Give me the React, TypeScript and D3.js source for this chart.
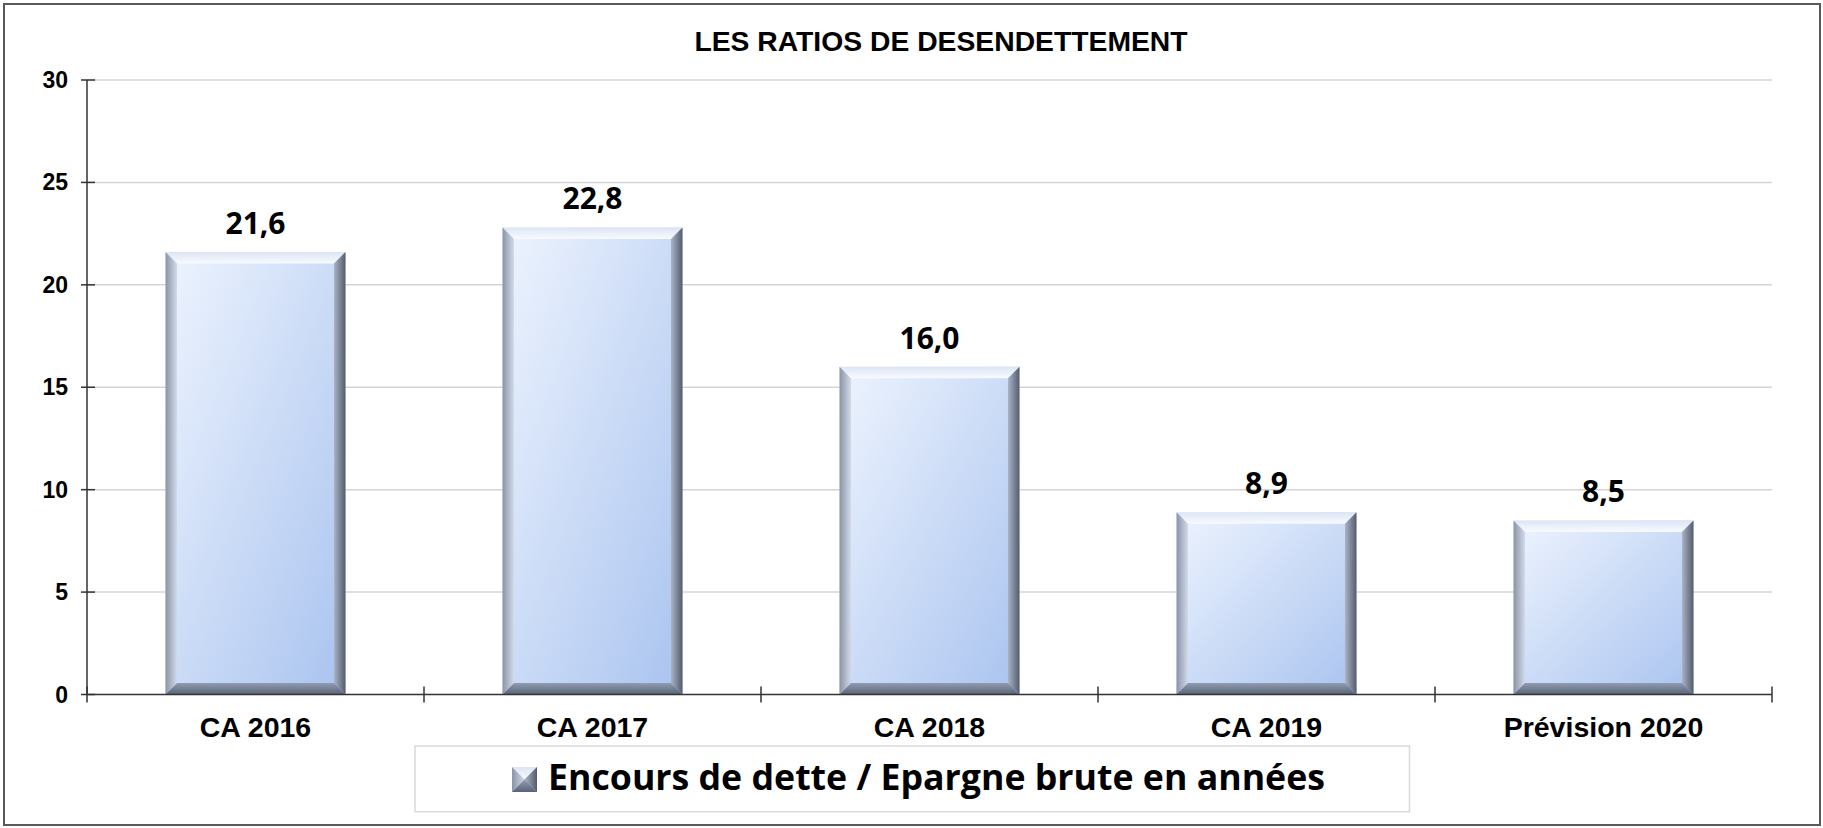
import { useEffect } from 'react';
import * as d3 from 'd3';

const categories = ['CA 2016', 'CA 2017', 'CA 2018', 'CA 2019', 'Prévision 2020'];
const ratios = [21.6, 22.8, 16.0, 8.9, 8.5];
const yTicks = [0, 5, 10, 15, 20, 25, 30];
const title = 'LES RATIOS DE DESENDETTEMENT';
const seriesName = 'Encours de dette / Epargne brute en années';

const W = 1823;
const H = 828;
const left = 87;
const right = 1772;
const top = 80;
const bottom = 694.5;
const bev = 11.5;

const fmt = (v: number) => d3.format('.1f')(v).replace('.', ',');

function Bevel({ x0, y0, x1, y1, b }: { x0: number; y0: number; x1: number; y1: number; b: number }) {
  const p = (pts: number[][]) => pts.map((d) => d.join(',')).join(' ');
  return (
    <g>
      <rect x={x0} y={y0} width={x1 - x0} height={y1 - y0} fill="url(#face)" />
      <polygon points={p([[x0, y0], [x1, y0], [x1 - b, y0 + b], [x0 + b, y0 + b]])} fill="url(#bTop)" />
      <polygon points={p([[x0, y0], [x0 + b, y0 + b], [x0 + b, y1 - b], [x0, y1]])} fill="url(#bLeft)" />
      <polygon points={p([[x1, y0], [x1, y1], [x1 - b, y1 - b], [x1 - b, y0 + b]])} fill="url(#bRight)" />
      <polygon points={p([[x0, y1], [x0 + b, y1 - b], [x1 - b, y1 - b], [x1, y1]])} fill="url(#bBottom)" />
    </g>
  );
}

export default function App() {
  useEffect(() => {
    document.body.style.margin = '0';
  }, []);

  const x = d3.scaleBand<string>().domain(categories).range([left, right]).paddingInner(0.466).paddingOuter(0.233);
  const y = d3.scaleLinear().domain([0, 30]).range([bottom, top]);
  const step = x.step();
  const bounds = d3.range(categories.length + 1).map((i) => left + i * step);

  return (
    <svg width={W} height={H} style={{ display: 'block' }}>
      <defs>
        <linearGradient id="face" x1="0" y1="0" x2="1" y2="1">
          <stop offset="0" stopColor="#eef4fe" />
          <stop offset="1" stopColor="#a9c3ef" />
        </linearGradient>
        <linearGradient id="bTop" x1="0" y1="0" x2="0" y2="1">
          <stop offset="0" stopColor="#dce5f4" />
          <stop offset="1" stopColor="#f8fbff" />
        </linearGradient>
        <linearGradient id="bLeft" x1="0" y1="0" x2="1" y2="0">
          <stop offset="0" stopColor="#8a94a6" />
          <stop offset="1" stopColor="#d2dbea" />
        </linearGradient>
        <linearGradient id="bRight" x1="0" y1="0" x2="1" y2="0">
          <stop offset="0" stopColor="#aab4c7" />
          <stop offset="1" stopColor="#545c6c" />
        </linearGradient>
        <linearGradient id="bBottom" x1="0" y1="0" x2="0" y2="1">
          <stop offset="0" stopColor="#909cb3" />
          <stop offset="1" stopColor="#5a6376" />
        </linearGradient>
      </defs>
      <rect x={0} y={0} width={W} height={H} fill="#fff" />
      <rect x={4} y={4} width={1816} height={821} fill="none" stroke="#595959" strokeWidth={2} />

      <text x={941} y={51} textAnchor="middle" fontFamily="'Liberation Sans', Arial, sans-serif" fontWeight="bold" fontSize={28.3}>
        {title}
      </text>

      {yTicks.filter((t) => t > 0).map((t) => (
        <line key={'g' + t} x1={left} x2={right} y1={y(t)} y2={y(t)} stroke="#d4d4d4" strokeWidth={1.5} />
      ))}

      {categories.map((c, i) => (
        <Bevel key={c} x0={x(c)!} y0={y(ratios[i])} x1={x(c)! + x.bandwidth()} y1={y(0)} b={bev} />
      ))}

      <line x1={left} x2={left} y1={top} y2={bottom} stroke="#333" strokeWidth={1.5} />
      <line x1={left} x2={right} y1={bottom} y2={bottom} stroke="#333" strokeWidth={1.5} />
      {yTicks.map((t) => (
        <g key={'t' + t}>
          <line x1={left - 6} x2={left + 8} y1={y(t)} y2={y(t)} stroke="#333" strokeWidth={1.5} />
          <text x={68} y={y(t)} dy="0.35em" textAnchor="end" fontFamily="'Liberation Sans', Arial, sans-serif" fontWeight="bold" fontSize={23}>
            {t}
          </text>
        </g>
      ))}
      {bounds.map((b, i) => (
        <line key={'xb' + i} x1={b} x2={b} y1={bottom - 8} y2={bottom + 8} stroke="#333" strokeWidth={1.5} />
      ))}

      {categories.map((c) => (
        <text key={'l' + c} x={x(c)! + x.bandwidth() / 2} y={737} textAnchor="middle" fontFamily="'Liberation Sans', Arial, sans-serif" fontWeight="bold" fontSize={28.5}>
          {c}
        </text>
      ))}

      {categories.map((c, i) => (
        <text key={'v' + c} x={x(c)! + x.bandwidth() / 2} y={y(ratios[i]) - 18} textAnchor="middle" fontFamily="'Open Sans', sans-serif" fontWeight="bold" fontSize={30}>
          {fmt(ratios[i])}
        </text>
      ))}

      <rect x={415} y={746} width={994.5} height={65.7} fill="#fff" stroke="#d9d9d9" strokeWidth={1.5} />
      <Bevel x0={512} y0={767} x1={537} y1={792} b={12.5} />
      <text x={548} y={790} fontFamily="'Open Sans', sans-serif" fontWeight="bold" fontSize={35} textLength={777} lengthAdjust="spacingAndGlyphs">
        {seriesName}
      </text>
    </svg>
  );
}
